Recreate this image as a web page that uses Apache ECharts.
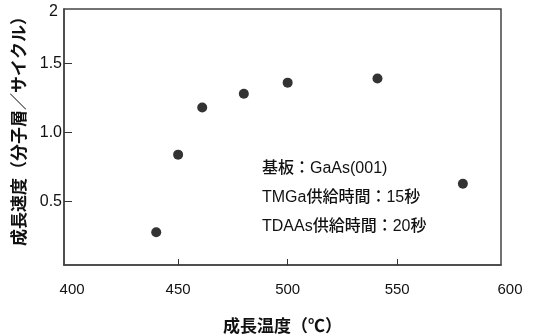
<!DOCTYPE html>
<html>
<head>
<meta charset="utf-8">
<script src="https://cdn.jsdelivr.net/npm/echarts@6/dist/echarts.min.js"></script>
<style>html,body{margin:0;padding:0;background:#fff}#c{width:533px;height:336px}</style>
</head>
<body>
<div id="c"></div>
<script>
// Data
var temps = [440, 450, 461, 480, 500, 541, 580];
var rates = [0.28, 0.84, 1.18, 1.28, 1.36, 1.39, 0.63];
var xTickValues = [450, 500, 550];
var xLabelValues = [400, 450, 500, 550, 600];
var yTickValues = [0.5, 1.0, 1.5];
var yLabelValues = [0.5, 1.0, 1.5, 2];
var notes = ['基板：GaAs(001)', 'TMGa供給時間：15秒', 'TDAAs供給時間：20秒'];

var X_MIN = 397.9, X_MAX = 597.4;   // visible frame range
var Y_MIN = 0.043, Y_MAX = 1.892;

var FONT = "'Liberation Sans', 'Noto Sans CJK JP', sans-serif";
var INK = '#111';

function clampX(v){ return Math.min(Math.max(v, X_MIN), X_MAX); }
function clampY(v){ return Math.min(Math.max(v, Y_MIN), Y_MAX); }

var chart = echarts.init(document.getElementById('c'), null, {renderer: 'canvas'});
chart.setOption({
  backgroundColor: '#fff',
  animation: false,
  grid: {left: 64, top: 9, width: 437, height: 256, containLabel: false, outerBoundsMode: 'none',
         show: true, borderColor: '#444', borderWidth: 1.5, backgroundColor: 'transparent'},
  xAxis: {
    type: 'value', min: X_MIN, max: X_MAX,
    name: '成長温度（℃）', nameLocation: 'middle', nameGap: 54,
    nameTextStyle: {fontFamily: FONT, fontSize: 17, fontWeight: 'bold', color: INK},
    axisLine: {show: true, lineStyle: {color: '#444', width: 1.5}},
    axisTick: {show: true, inside: true, length: 6, customValues: xTickValues, lineStyle: {color: '#333', width: 1}},
    axisLabel: {
      show: true, margin: 17, fontFamily: FONT, fontSize: 15, color: INK,
      customValues: xLabelValues.map(clampX),
      formatter: function(v){
        var n = Math.round(v / 50) * 50;
        if (n === 400) return '{l|400}';
        if (n === 600) return '{r|600}';
        return String(n);
      },
      rich: {
        l: {fontFamily: FONT, fontSize: 15, color: INK, padding: [0, 0, 0, 7]},
        r: {fontFamily: FONT, fontSize: 15, color: INK, padding: [0, 0, 0, 18]}
      }
    },
    splitLine: {show: false}
  },
  yAxis: {
    type: 'value', min: Y_MIN, max: Y_MAX,
    name: '成長速度（分子層／サイクル）', nameLocation: 'middle', nameGap: 33, nameRotate: 90,
    nameTextStyle: {fontFamily: FONT, fontSize: 17, fontWeight: 'bold', color: INK, padding: [0, 0, 0, 20]},
    axisLine: {show: true, lineStyle: {color: '#444', width: 1.5}},
    axisTick: {show: true, inside: true, length: 8, customValues: yTickValues, lineStyle: {color: '#333', width: 1}},
    axisLabel: {
      show: true, margin: 2, fontFamily: FONT, fontSize: 16, color: INK,
      customValues: yLabelValues.map(clampY),
      formatter: function(v){ return v > 1.8 ? '{t|2}' : v.toFixed(1); },
      rich: {
        t: {fontFamily: FONT, fontSize: 16, color: INK, padding: [6, 4, 0, 0]}
      }
    },
    splitLine: {show: false}
  },
  series: [{
    type: 'scatter',
    data: temps.map(function(t, i){ return [t, rates[i]]; }),
    symbol: 'circle', symbolSize: 10,
    itemStyle: {color: '#000'}
  }],
  graphic: notes.map(function(s, i){
    return {
      type: 'text', left: 262, top: 161 + i * 29,
      style: {text: s, fontFamily: FONT, fontSize: 16, fontWeight: 500, fill: INK}
    };
  })
});
</script>
</body>
</html>
